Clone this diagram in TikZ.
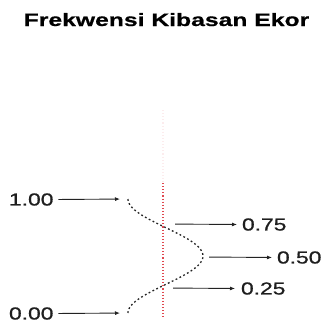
\documentclass[tikz,border=0pt]{standalone}
\usepackage{fontspec}
\usetikzlibrary{arrows.meta}
\newfontfamily\lblfont[FakeStretch=1.32,FakeBold=0.9]{Liberation Sans}
\newfontfamily\ttlfont[FakeStretch=1.38,FakeBold=0.6]{Liberation Sans Bold}
\definecolor{txtgray}{HTML}{1E1E1E}
\definecolor{arrgray}{HTML}{222222}
\definecolor{redline}{HTML}{E04850}
\begin{document}
\begin{tikzpicture}[x=1pt,y=-1pt,
  lab/.style={inner sep=0pt, outer sep=0pt, text=txtgray, font=\lblfont\fontsize{17.3}{19}\selectfont},
  ttl/.style={inner sep=0pt, outer sep=0pt, text=black, font=\ttlfont\fontsize{17.9}{20}\selectfont},
  arr/.style={draw=arrgray, line width=0.9pt, -{Latex[length=5pt,width=4pt]}},
  curvestyle/.style={draw=arrgray, line width=1.3pt, dash pattern=on 1.8pt off 2.5pt},
  redstyle/.style={draw=redline, line width=1.1pt, dash pattern=on 1.1pt off 2pt}]
\useasboundingbox (0,0) rectangle (323,322);
% title
\node[ttl, anchor=base] (title) at (166.5,26) {Frekwensi Kibasan Ekor};
% red vertical line
\coordinate (rtopfaint) at (163,110);
\coordinate (rtop) at (163,183);
\coordinate (rbot) at (163,317);
\draw[redstyle, opacity=0.1] (rtopfaint) -- (rtop);
\draw[redstyle] (rtop) -- (rbot);
% curve
\draw[curvestyle] plot[domain=0:114, samples=80] ({165.5-37.5*cos(3.15789*\x)}, {199+\x});
\coordinate (c100) at (128,199);
\coordinate (c075) at (163,224);
\coordinate (c050) at (203,257);
\coordinate (c025) at (163,288);
\coordinate (c000) at (128,313);
% labels
\node[lab, anchor=west] (l100) at (9,199.5) {1.00};
\node[lab, anchor=west] (l000) at (9,313.5) {0.00};
\node[lab, anchor=west] (l075) at (242,224.5) {0.75};
\node[lab, anchor=west] (l050) at (277,257.5) {0.50};
\node[lab, anchor=west] (l025) at (241,288.5) {0.25};
% arrows
\draw[arr, shorten <=5pt, shorten >=8pt] (l100.east) -- (c100);
\draw[arr, shorten <=5pt, shorten >=8pt] (l000.east) -- (c000);
\draw[arr, shorten <=12pt, shorten >=5pt] (c075) -- (l075.west);
\draw[arr, shorten <=6pt, shorten >=5pt] (c050) -- (l050.west);
\draw[arr, shorten <=10pt, shorten >=6pt] (c025) -- (l025.west);
\end{tikzpicture}
\end{document}
